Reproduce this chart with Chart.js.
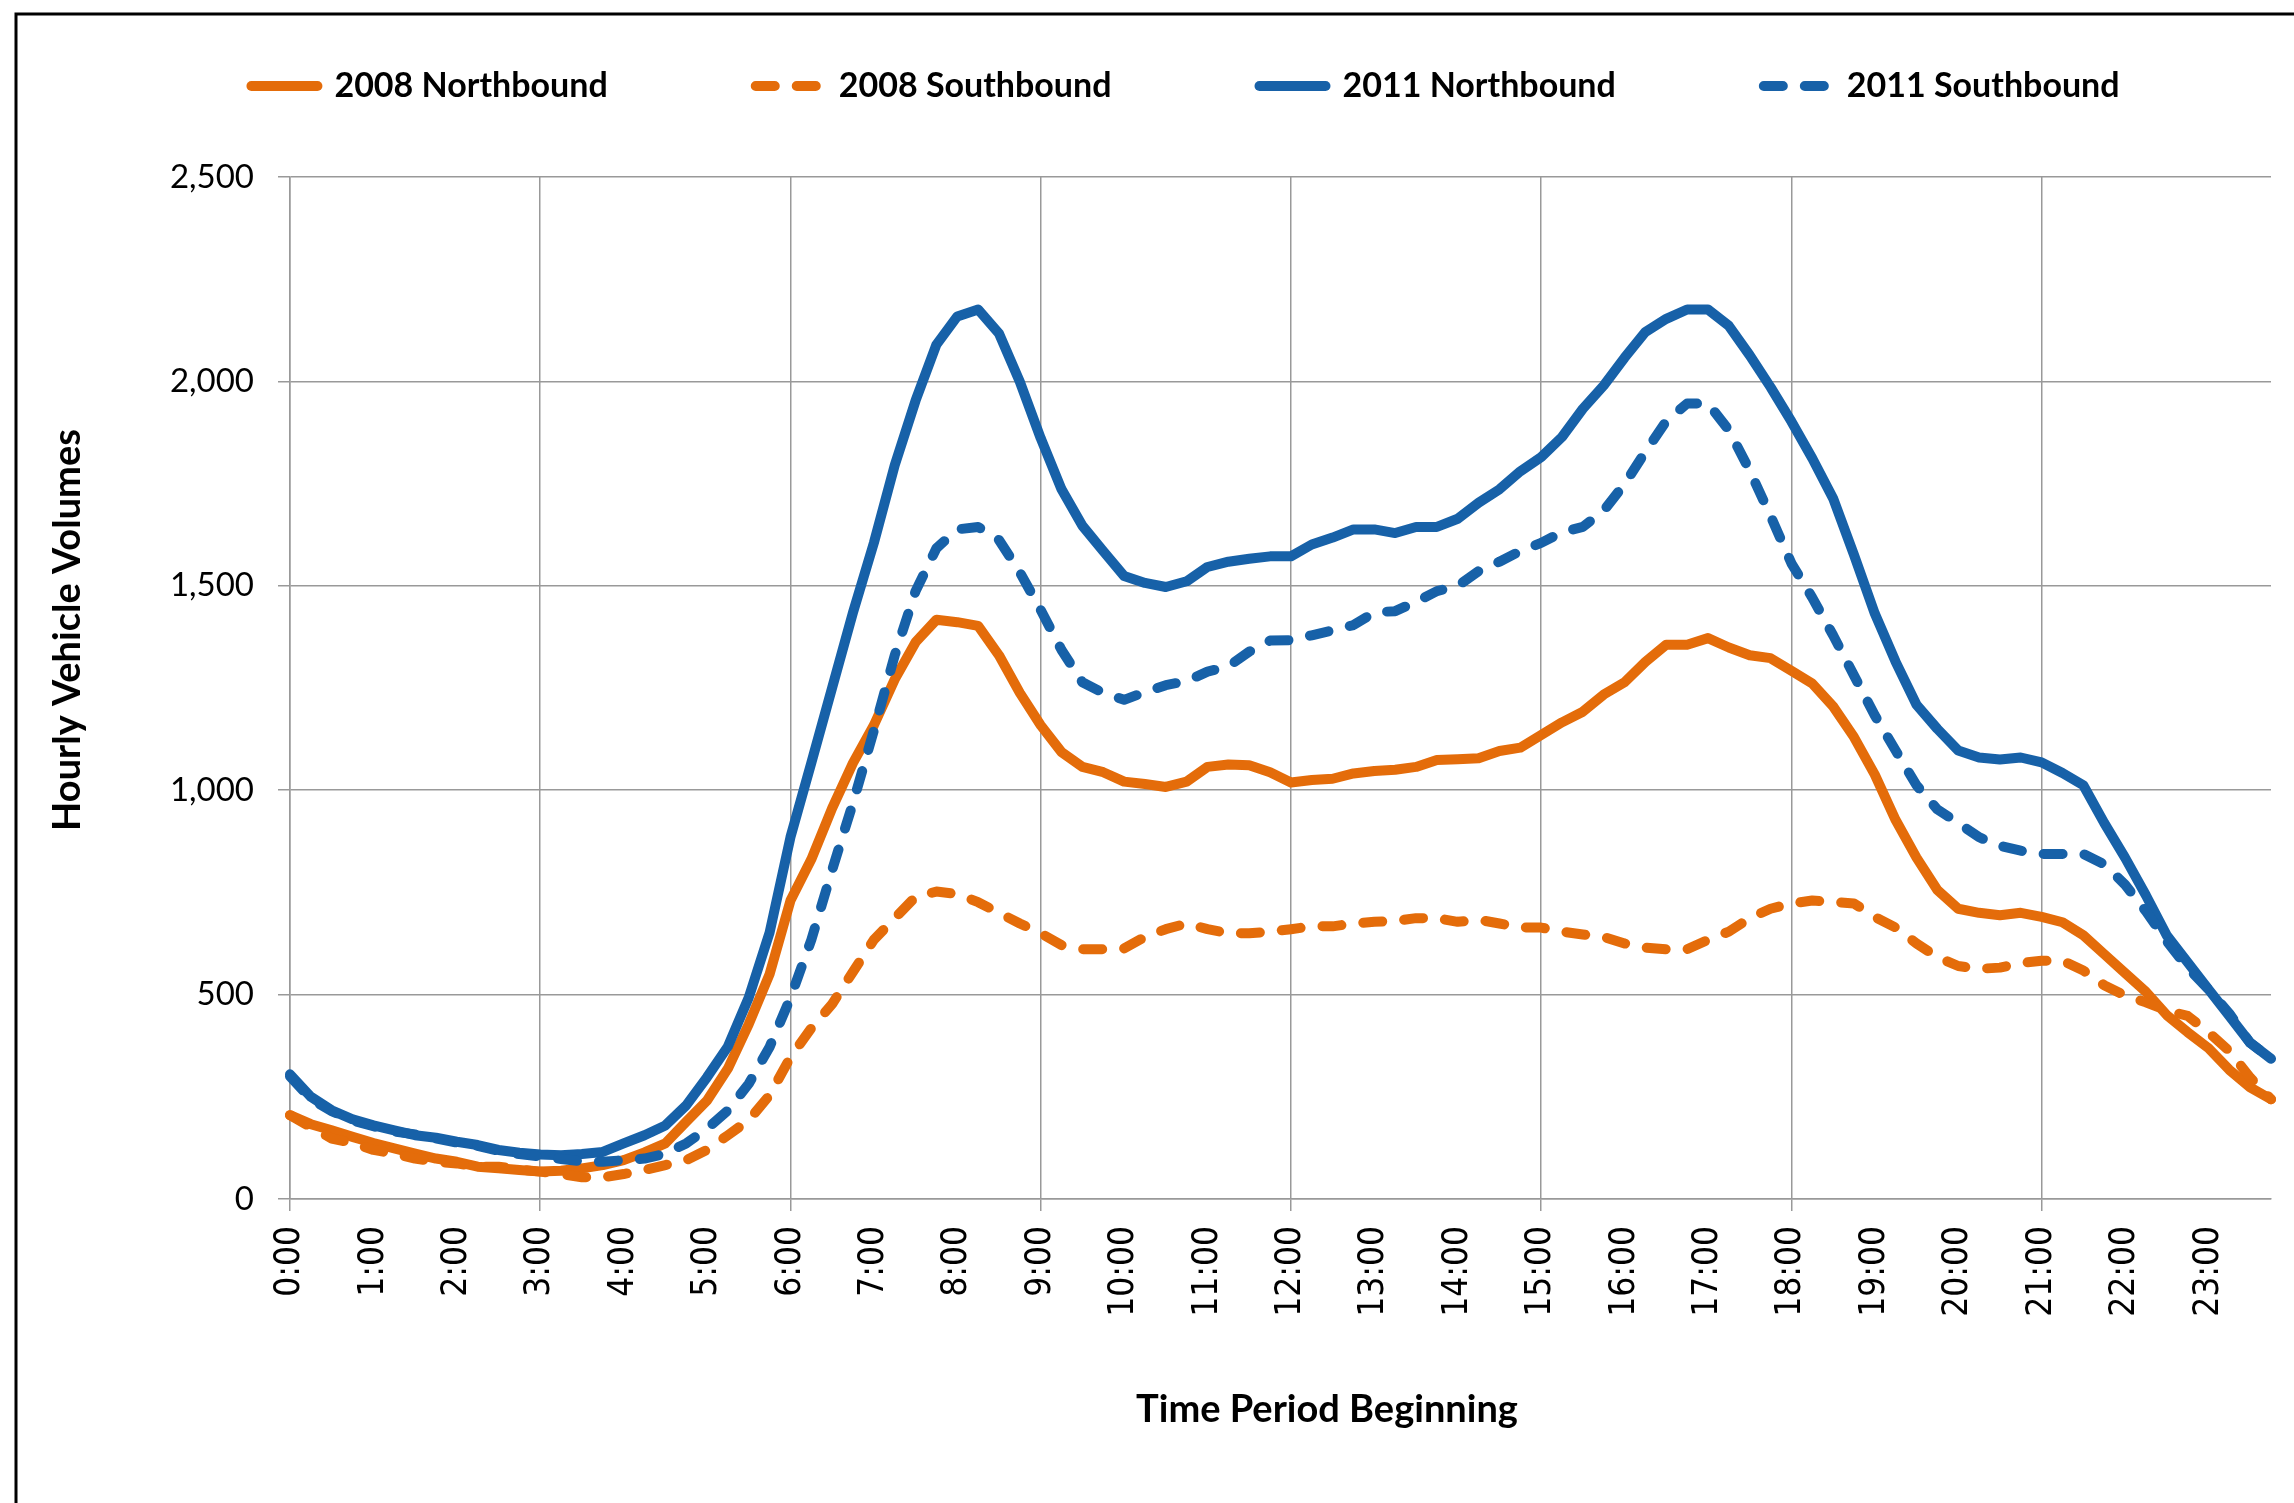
<!DOCTYPE html>
<html>
<head>
<meta charset="utf-8">
<title>Hourly Vehicle Volumes</title>
<script src="https://cdn.jsdelivr.net/npm/chart.js"></script>
<style>
  html, body { margin: 0; padding: 0; background: #fff; }
  canvas { display: block; }
</style>
</head>
<body>
<canvas id="volChart" width="2294" height="1503"></canvas>
<script>
// quarter-hour periods, 0:00 .. 23:45
const times = [];
for (let h = 0; h < 24; h++) {
  for (const m of ['00', '15', '30', '45']) times.push(h + ':' + m);
}

const seriesNames = ['2008 Northbound', '2008 Southbound', '2011 Northbound', '2011 Southbound'];

const nb2008 = [205,183,168,152,137,124,111,99,91,79,75,71,67,69,75,83,95,114,136,189,241,319,428,550,730,
  831,956,1067,1159,1271,1362,1417,1411,1402,1330,1238,1159,1093,1057,1044,1021,1015,1008,1021,1057,1063,1061,1044,1019,
  1025,1028,1041,1047,1050,1057,1074,1076,1078,1096,1104,1135,1166,1192,1234,1264,1314,1356,1356,1372,1349,1330,1323,1292,
  1261,1205,1130,1038,927,835,756,710,700,694,700,690,677,645,599,553,507,450,408,369,316,273,244];

const sb2008 = [205,176,148,137,120,111,99,91,87,79,79,72,67,61,53,53,61,71,83,95,120,156,193,254,347,
  418,477,556,634,687,739,752,746,726,700,674,650,621,611,611,613,641,660,674,660,650,650,654,660,
  667,667,674,678,680,687,687,678,683,674,664,664,654,647,641,625,615,611,611,634,654,687,710,723,
  730,727,723,690,664,625,592,570,563,566,577,583,583,559,523,498,481,461,448,408,362,297,244];

const nb2011 = [305,250,217,195,180,168,156,150,140,132,120,113,109,107,110,115,136,156,180,229,298,373,493,652,885,
  1067,1251,1435,1605,1795,1953,2090,2159,2176,2117,1999,1861,1736,1647,1585,1524,1507,1497,1511,1546,1559,1566,1572,1572,
  1601,1618,1638,1638,1629,1644,1644,1664,1703,1736,1780,1815,1864,1933,1990,2058,2121,2153,2176,2176,2136,2064,1986,1902,
  1812,1714,1576,1432,1314,1209,1150,1097,1080,1075,1080,1068,1042,1012,920,835,743,645,579,513,448,382,343];

const sb2011 = [300,245,215,192,178,165,158,148,138,130,118,110,104,98,92,91,95,99,111,136,172,217,282,372,492,
  634,805,969,1146,1330,1487,1592,1638,1644,1612,1533,1441,1343,1264,1238,1221,1240,1257,1267,1290,1303,1339,1366,1367,
  1379,1391,1404,1435,1438,1461,1487,1500,1536,1559,1585,1605,1631,1644,1684,1749,1828,1903,1946,1946,1881,1782,1671,1555,
  1471,1379,1281,1183,1097,1012,953,920,885,864,852,844,844,844,819,769,704,631,566,513,454,382,343];

const yTicks = [0, 500, 1000, 1500, 2000, 2500];

const ORANGE = '#E46C0A';
const BLUE = '#1761A8';
const GRID = '#999999';
const DASH = [19, 22];
const LINE_W = 10;

function line(label, data, color, dashed, order) {
  return {
    label: label,
    data: data,
    borderColor: color,
    backgroundColor: color,
    borderWidth: LINE_W,
    borderDash: dashed ? DASH : [],
    borderCapStyle: 'round',
    borderJoinStyle: 'round',
    pointRadius: 0,
    tension: 0,
    fill: false,
    order: order
  };
}

// legend needs a taller box than its own padding gives
const legendHeight = {
  id: 'legendHeight',
  beforeInit(chart) {
    const fit = chart.legend.fit;
    chart.legend.fit = function () {
      fit.bind(chart.legend)();
      this.height = 256;
    };
  }
};

// outer frame + axis titles
const frame = {
  id: 'frame',
  afterDraw(chart) {
    const ctx = chart.ctx;
    ctx.save();
    ctx.strokeStyle = '#000';
    ctx.lineWidth = 3;
    ctx.beginPath();
    ctx.moveTo(16, 1503);
    ctx.lineTo(16, 14);
    ctx.lineTo(2294, 14);
    ctx.stroke();

    ctx.fillStyle = '#000';
    ctx.font = 'bold 38px Lato';
    ctx.textAlign = 'center';
    ctx.textBaseline = 'alphabetic';
    ctx.fillText('Time Period Beginning', 1327, 1422);
    ctx.translate(80, 630);
    ctx.rotate(-Math.PI / 2);
    ctx.fillText('Hourly Vehicle Volumes', 0, 0);
    ctx.restore();
  }
};

const ctx = document.getElementById('volChart').getContext('2d');
new Chart(ctx, {
  type: 'line',
  data: {
    labels: times,
    datasets: [
      line(seriesNames[0], nb2008, ORANGE, false, 4),
      line(seriesNames[1], sb2008, ORANGE, true, 3),
      line(seriesNames[2], nb2011, BLUE, false, 2),
      line(seriesNames[3], sb2011, BLUE, true, 1)
    ]
  },
  options: {
    responsive: false,
    animation: false,
    devicePixelRatio: 1,
    layout: { padding: { top: -79, left: 100, right: 23, bottom: 0 } },
    plugins: {
      tooltip: { enabled: false },
      legend: {
        position: 'top',
        labels: {
          usePointStyle: true,
          pointStyle: 'line',
          pointStyleWidth: 66,
          padding: 148,
          color: '#000',
          font: { family: 'Lato', size: 34, weight: 'bold' },
          sort: (a, b) => a.datasetIndex - b.datasetIndex,
          generateLabels: (chart) =>
            Chart.defaults.plugins.legend.labels.generateLabels(chart).map(item => {
              const ds = chart.data.datasets[item.datasetIndex];
              item.lineDash = ds.borderDash;
              item.lineCap = 'round';
              item.lineWidth = LINE_W;
              item.strokeStyle = ds.borderColor;
              return item;
            })
        }
      }
    },
    scales: {
      x: {
        type: 'category',
        afterFit: (s) => { s.height = 304; },
        grid: {
          color: (c) => (c.tick && c.tick.value % 12 === 0 ? GRID : 'rgba(0,0,0,0)'),
          lineWidth: 1.5,
          tickLength: 12
        },
        border: { color: GRID, width: 1.5 },
        ticks: {
          autoSkip: false,
          maxRotation: 90,
          minRotation: 90,
          padding: 15,
          color: '#000',
          font: { family: 'DejaVu Sans Condensed', size: 35 },
          callback: (v, i) => (i % 4 === 0 ? times[i] : null)
        }
      },
      y: {
        min: 0,
        max: 2500,
        afterFit: (s) => { s.width = 190; },
        afterBuildTicks: (s) => { s.ticks = yTicks.map(v => ({ value: v })); },
        grid: { color: GRID, lineWidth: 1.5, tickLength: 12 },
        border: { color: GRID, width: 1.5 },
        ticks: {
          padding: 24,
          color: '#000',
          font: { family: 'Lato', size: 33 },
          callback: (v) => v.toLocaleString('en-US')
        }
      }
    }
  },
  plugins: [legendHeight, frame]
});
</script>
</body>
</html>
